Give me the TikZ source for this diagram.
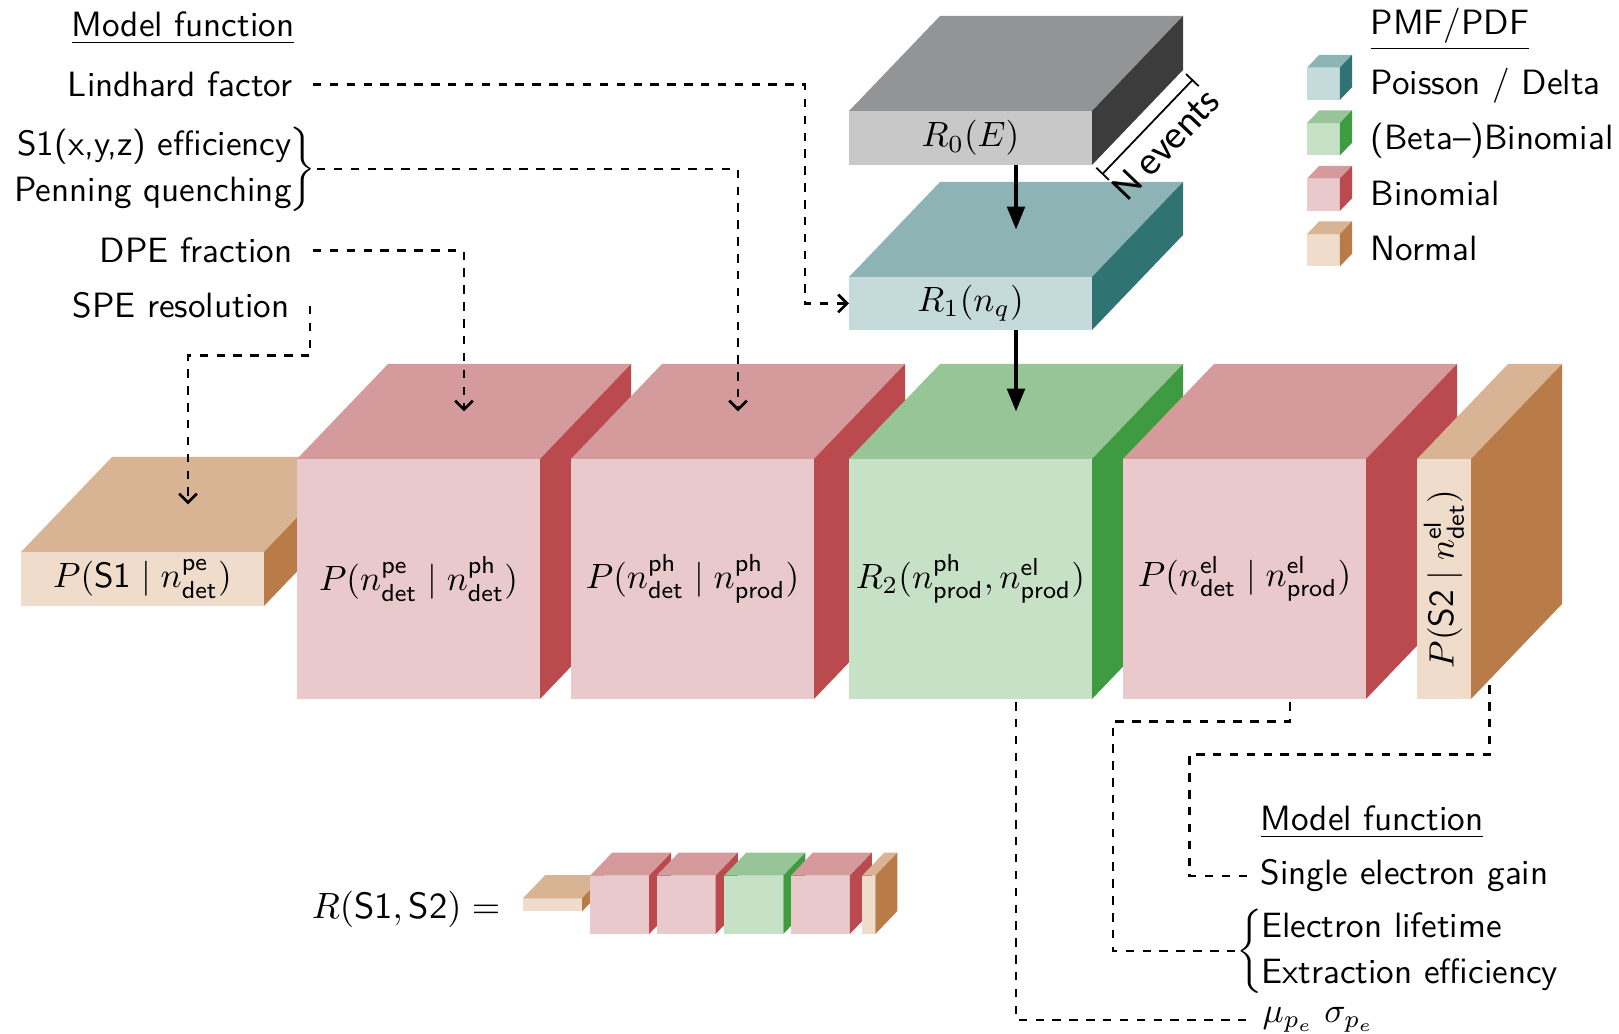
\documentclass[tikz,border=0pt]{standalone}
\usepackage{fontspec}
\newfontfamily\eventsfont{Carlito}
\renewcommand{\familydefault}{\sfdefault}
\usetikzlibrary{arrows.meta}
\pgfdeclarelayer{back}
\pgfsetlayers{back,main}

\definecolor{grayF}{HTML}{C8C8C8}
\definecolor{grayT}{HTML}{939496}
\definecolor{grayS}{HTML}{3C3C3C}
\definecolor{poisF}{HTML}{C4DADB}
\definecolor{poisT}{HTML}{8EB3B4}
\definecolor{poisS}{HTML}{2F7373}
\definecolor{betaF}{HTML}{C7E1C6}
\definecolor{betaT}{HTML}{97C597}
\definecolor{betaS}{HTML}{3F9B40}
\definecolor{binoF}{HTML}{E9C9CB}
\definecolor{binoT}{HTML}{D59A9C}
\definecolor{binoS}{HTML}{BA4A4E}
\definecolor{normF}{HTML}{EFDCCB}
\definecolor{normT}{HTML}{D8B394}
\definecolor{normS}{HTML}{B97B47}

\newcommand{\cubedx}{0.91}
\newcommand{\cubedy}{0.95}
% name, front corner, width, height, colour set
\newcommand{\prism}[5]{%
  \begin{scope}[shift={#2}]
    \fill[#5F] (0,0) rectangle (#3,#4); % front
    \fill[#5T] (0,#4) -- ++(\cubedx,\cubedy) -- ++(#3,0) -- (#3,#4) -- cycle; % top
    \fill[#5S] (#3,0) -- ++(\cubedx,\cubedy) -- ++(0,#4) -- (#3,#4) -- cycle; % side
    \coordinate (#1-front) at ({#3/2},{#4/2});
    \coordinate (#1-west) at (0,{#4/2});
    \coordinate (#1-top) at ({#3/2+\cubedx/2},{#4+\cubedy/2});
    \coordinate (#1-base) at ({#3/2+\cubedx/2},{\cubedy/2});
    \coordinate (#1-bot) at ({#3/2+\cubedx/2},0);
    \coordinate (#1-se) at (#3,0);
    \coordinate (#1-sb) at ({#3+\cubedx},\cubedy);
  \end{scope}}
\newcommand{\cuberow}[1]{%
  \prism{#1s1}{(0,0.93)}{2.43}{0.54}{norm}
  \prism{#1pe}{(2.76,0)}{2.43}{2.40}{bino}
  \prism{#1ph}{(5.50,0)}{2.43}{2.40}{bino}
  \prism{#1rtwo}{(8.28,0)}{2.43}{2.40}{beta}
  \prism{#1el}{(11.02,0)}{2.43}{2.40}{bino}
  \prism{#1s2}{(13.96,0)}{0.54}{2.40}{norm}}

\begin{document}
\begin{tikzpicture}[
    conn/.style={line width=0.8pt, dash pattern=on 2.4pt off 2.4pt},
    feed/.style={conn, -{Straight Barb[length=2.5pt,width=5pt]}},
    flow/.style={line width=1pt, -{Triangle[length=6.5pt,width=5pt]}},
    lbl/.style={inner xsep=0.2cm, inner ysep=2pt}]
    \useasboundingbox (0,0) rectangle (16.19,10.34);

    % chain of distributions
    \begin{scope}[shift={(0.21,3.35)}]
        \cuberow{}
    \end{scope}
    \prism{rzero}{(8.49,8.69)}{2.43}{0.54}{gray}
    \prism{rone}{(8.49,7.04)}{2.43}{0.53}{pois}

    \node (s1) at (s1-front) {$P(\mathsf{S1}\mid n^{\mathsf{pe}}_{\mathsf{det}})$};
    \node (pe) at (pe-front) {$P(n^{\mathsf{pe}}_{\mathsf{det}}\mid n^{\mathsf{ph}}_{\mathsf{det}})$};
    \node (ph) at (ph-front) {$P(n^{\mathsf{ph}}_{\mathsf{det}}\mid n^{\mathsf{ph}}_{\mathsf{prod}})$};
    \node (rtwo) at (rtwo-front) {$R_2(n^{\mathsf{ph}}_{\mathsf{prod}}, n^{\mathsf{el}}_{\mathsf{prod}})$};
    \node (el) at (el-front) {$P(n^{\mathsf{el}}_{\mathsf{det}}\mid n^{\mathsf{el}}_{\mathsf{prod}})$};
    \node[rotate=90] (s2) at (s2-front) {$P(\mathsf{S2}\mid n^{\mathsf{el}}_{\mathsf{det}})$};
    \node (rzero) at (rzero-front) {$R_0(E)$};
    \node (rone) at (rone-front) {$R_1(n_q)$};

    \draw[flow] (rzero-bot) -- (rone-top);
    \draw[flow] (rone-bot) -- (rtwo-top);
    \draw[line width=0.5pt, {Bar[width=5pt]}-{Bar[width=5pt]}] ([shift={(0.10,-0.095)}]rzero-se) -- ([shift={(0.10,-0.095)}]rzero-sb)
        node[midway, sloped, below=1.5pt, inner sep=2pt, font=\eventsfont\fontsize{11}{13}\selectfont] (nev) {N events};

    % model functions, top left
    \node[anchor=base east, inner sep=0] (mft) at (2.95,9.97) {\underline{Model function}};
    \node[lbl, anchor=base east] (lind) at (3.13,9.37) {Lindhard factor};
    \node[anchor=east, inner sep=0] (brc) at (3.17,8.65) {$\left.\def\arraystretch{1.1}\begin{tabular}{@{}r@{}}S1(x,y,z) efficiency\\ Penning quenching\end{tabular}\kern-0.5pt\right\}$};
    \node[lbl, anchor=base east] (dpe) at (3.13,7.71) {DPE fraction};
    \node[lbl, anchor=base east] (spe) at (3.10,7.16) {SPE resolution};

    \draw[feed] (lind.east) -| ([xshift=-0.44cm]rone-west) -- (rone-west);
    \draw[feed] (brc.east) -| (ph-top);
    \draw[feed] (dpe.east) -| (pe-top);
    \draw[feed] (spe.east) -- ++(0,-0.50) -| (s1-top);

    % legend
    \node[anchor=base west, inner sep=0] (pmf) at (13.70,9.99) {\underline{PMF/PDF}};
    \begin{scope}[shift={(13.07,9.34)}, scale=0.135]
        \prism{kpois}{(0,0)}{2.43}{2.40}{pois}
    \end{scope}
    \begin{scope}[shift={(13.07,8.785)}, scale=0.135]
        \prism{kbeta}{(0,0)}{2.43}{2.40}{beta}
    \end{scope}
    \begin{scope}[shift={(13.07,8.23)}, scale=0.135]
        \prism{kbino}{(0,0)}{2.43}{2.40}{bino}
    \end{scope}
    \begin{scope}[shift={(13.07,7.675)}, scale=0.135]
        \prism{knorm}{(0,0)}{2.43}{2.40}{norm}
    \end{scope}
    \node[anchor=base west, inner sep=0] (lpois) at (13.70,9.39) {Poisson / Delta};
    \node[anchor=base west, inner sep=0] (lbeta) at (13.70,8.84) {(Beta\textendash)Binomial};
    \node[anchor=base west, inner sep=0] (lbino) at (13.70,8.28) {Binomial};
    \node[anchor=base west, inner sep=0] (lnorm) at (13.70,7.73) {Normal};

    % model functions, bottom right
    \node[anchor=base west, inner sep=0] (mfb) at (12.60,2.03) {\underline{Model function}};
    \node[anchor=west, inner xsep=0.11cm] (seg) at (12.49,1.58) {Single electron gain};
    \node[anchor=west, inner sep=0] (elb) at (12.36,0.83) {$\left\{\kern-0.5pt\def\arraystretch{1.1}\begin{tabular}{@{}l@{}}Electron lifetime\\ Extraction efficiency\end{tabular}\right.$};
    \node[anchor=west, inner xsep=0.08cm] (musig) at (12.54,0.14) {$\mu_{p_e}\hspace{3pt}\sigma_{p_e}$};

    \begin{pgfonlayer}{back}
        \draw[conn] (rtwo-base) |- (musig.west);
        \draw[conn] (el-base) -- ++(0,-0.70) -- ++(-1.77,0) |- (elb.west);
        \draw[conn] (s2-base) -- ++(0,-1.03) -- ++(-3.00,0) |- (seg.west);
    \end{pgfonlayer}

    % whole chain in small
    \node[anchor=east, inner sep=0, scale=1.04] (rss) at (5.01,1.25) {$R(\mathsf{S1},\mathsf{S2}) =$};
    \begin{scope}[shift={(5.23,1.00)}, scale=0.243]
        \cuberow{m}
    \end{scope}
\end{tikzpicture}
\end{document}
